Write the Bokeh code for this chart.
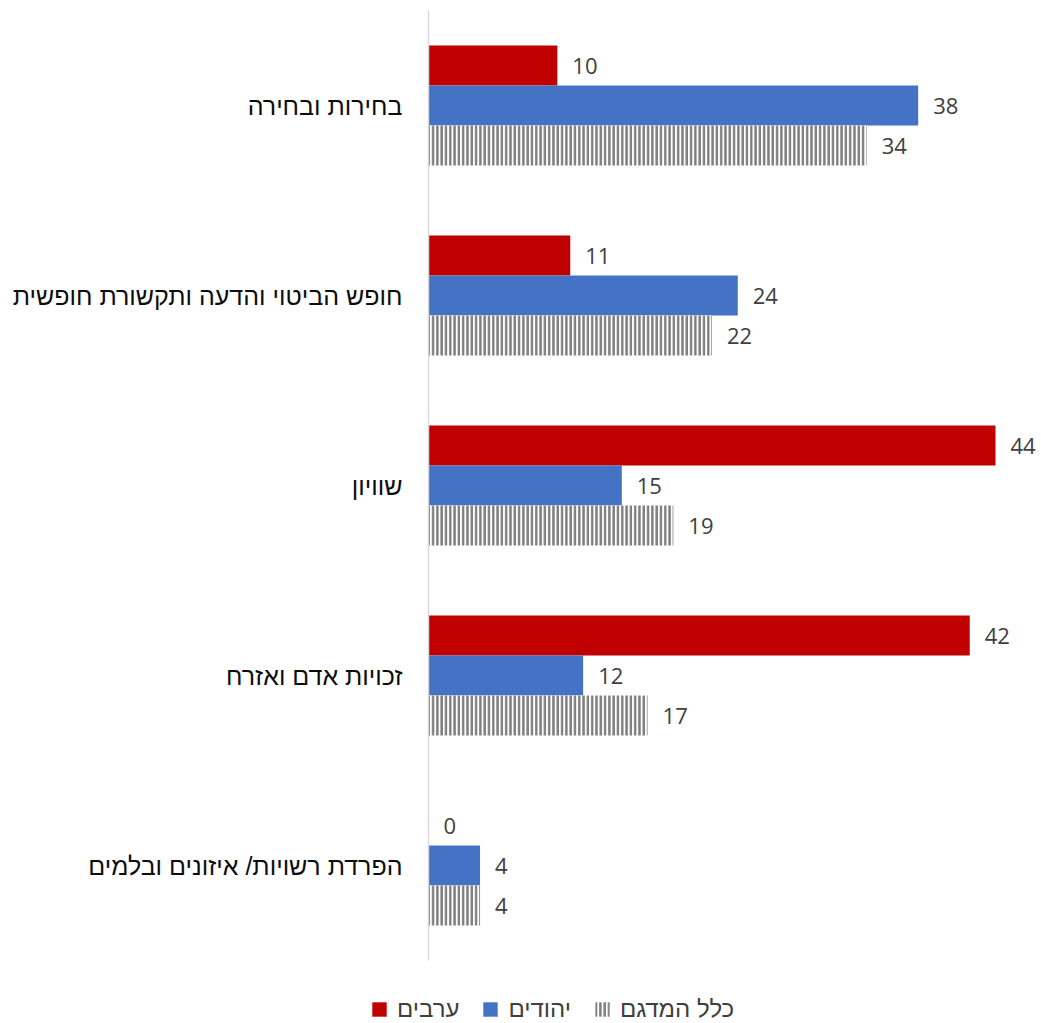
from bokeh.plotting import figure
from bokeh.models import ColumnDataSource, Range1d, Legend, LegendItem, FixedTicker
from bokeh.core.properties import value
from bokeh.embed import file_html
from bokeh.resources import INLINE

categories = ["בחירות ובחירה", "חופש הביטוי והדעה ותקשורת חופשית", "שוויון",
              "זכויות אדם ואזרח", "הפרדת רשויות/ איזונים ובלמים"]
arabs = [10, 11, 44, 42, 0]
jews = [38, 24, 15, 12, 4]
total = [34, 22, 19, 17, 4]
series_names = ["ערבים", "יהודים", "כלל המדגם"]

n = len(categories)
bh = 40 / 190.0  # bar thickness in category units
ypos = [n - i - 0.5 for i in range(n)]  # category centres, first on top

src = ColumnDataSource(dict(
    cat=categories, y=ypos,
    y_a=[y + bh for y in ypos], y_j=ypos, y_t=[y - bh for y in ypos],
    arabs=arabs, jews=jews, total=total,
    arabs_t=[str(v) for v in arabs],
    jews_t=[str(v) for v in jews],
    total_t=[str(v) for v in total]))

NUM_FONT = "Open Sans"
HEB_FONT = "Liberation Sans"
W, H = 1041, 1023
AXIS_X, TOP_PX, BOT_PX = 428, 10, 960
px_per_unit = 567 / 44.0
cat_px = (BOT_PX - TOP_PX) / n

p = figure(width=W, height=H, output_backend="svg", toolbar_location=None,
           x_range=Range1d(-AXIS_X / px_per_unit, (W - AXIS_X) / px_per_unit),
           y_range=Range1d(-(H - BOT_PX) / cat_px, n + TOP_PX / cat_px),
           x_axis_location=None, min_border=0)
p.outline_line_color = None
p.xgrid.visible = False
p.ygrid.visible = False
p.background_fill_color = "white"
p.border_fill_color = "white"

r1 = p.hbar(y="y_a", right="arabs", left=0, height=bh, source=src,
            fill_color="#C00000", line_color=None)
r2 = p.hbar(y="y_j", right="jews", left=0, height=bh, source=src,
            fill_color="#4472C4", line_color=None)
r3 = p.hbar(y="y_t", right="total", left=0, height=bh, source=src,
            fill_color="white", line_color=None,
            hatch_pattern="vertical_line", hatch_color="#7f7f7f",
            hatch_scale=4.3, hatch_weight=2.6)

for fld, yf in (("arabs", "y_a"), ("jews", "y_j"), ("total", "y_t")):
    p.text(x=fld, y=yf, text=fld + "_t", source=src,
           x_offset=15, text_align="left", text_baseline="middle",
           text_font=value(NUM_FONT), text_font_size="22px", text_color="#404040")

ax = p.yaxis[0]
ax.fixed_location = 0
ax.bounds = (0, n)
ax.ticker = FixedTicker(ticks=ypos)
ax.major_label_overrides = {y: c for y, c in zip(ypos, categories)}
ax.major_tick_line_color = None
ax.minor_tick_line_color = None
ax.axis_line_color = "#d9d9d9"
ax.axis_line_width = 1.5
ax.major_label_text_font = HEB_FONT
ax.major_label_text_font_size = "25px"
ax.major_label_text_color = "#0d0d0d"
ax.major_label_standoff = 20

legend = Legend(items=[LegendItem(label=series_names[0], renderers=[r1]),
                       LegendItem(label=series_names[1], renderers=[r2]),
                       LegendItem(label=series_names[2], renderers=[r3])],
                location=(370, 0), orientation="horizontal",
                glyph_width=18, glyph_height=18, label_standoff=9, spacing=22,
                padding=0, margin=0, border_line_color=None,
                background_fill_alpha=0,
                label_text_font=HEB_FONT, label_text_font_size="24px",
                label_text_color="#404040")
p.add_layout(legend, "center")

open("out.html", "w").write(file_html(p, INLINE))
